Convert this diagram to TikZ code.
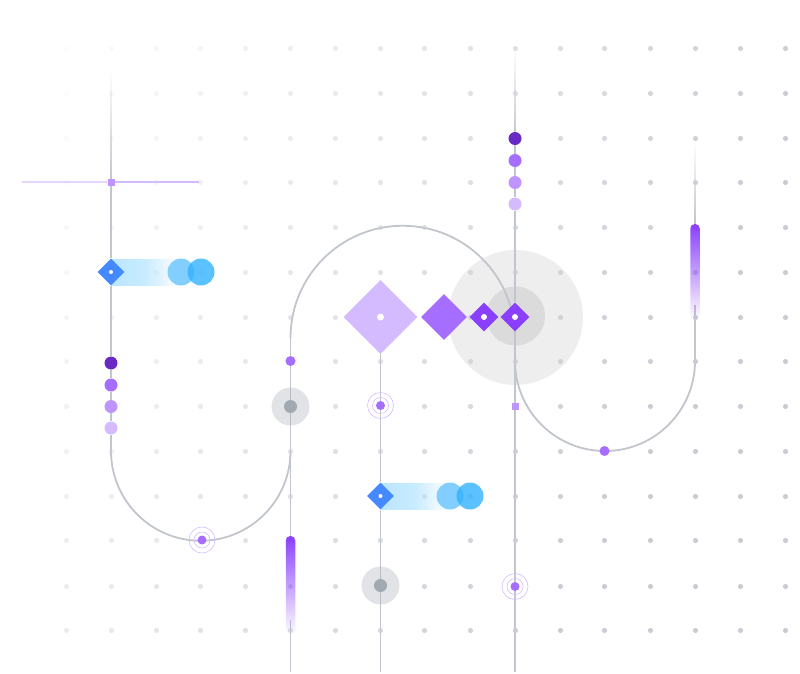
\documentclass[tikz,border=0pt]{standalone}
\usepackage{xcolor}
\usetikzlibrary{shapes.geometric,fadings,calc,backgrounds}

\definecolor{wiregray}{HTML}{C1C5CC}
\definecolor{dotgray}{HTML}{C9CDD3}
\definecolor{violetA}{HTML}{6929C4}
\definecolor{violetB}{HTML}{A56EFF}
\definecolor{violetC}{HTML}{BE95FF}
\definecolor{violetD}{HTML}{D4BBFF}
\definecolor{violetE}{HTML}{8A3FFC}
\definecolor{blueA}{HTML}{4589FF}
\definecolor{blueB}{HTML}{82CFFF}
\definecolor{blueC}{HTML}{33B1FF}
\definecolor{blueD}{HTML}{BAE6FF}
\definecolor{hubgray}{HTML}{A2A9B0}

\tikzfading[name=fadebar, top color=transparent!0, bottom color=transparent!100]
\tikzfading[name=faderight, left color=transparent!0, right color=transparent!100, middle color=transparent!20]

\tikzset{
    wire/.style={draw=wiregray, line width=0.036cm},
    wirefade/.style={top color=white, bottom color=wiregray},
    blob/.style={circle, inner sep=0pt, minimum size=#1},
    gem/.style={diamond, aspect=1, inner sep=0pt, minimum size=#1},
    pip/.style={blob=#1, fill=white},
    stackdot/.style={blob=0.26cm, fill=#1},
    smalldot/.style={blob=0.2cm, fill=violetB},
    halo/.style={blob=0.76cm, fill=hubgray, fill opacity=0.32},
    hub/.style={blob=0.26cm, fill=hubgray},
    ring/.style={blob=#1, draw=violetD, line width=0.012cm},
    marker/.style={rectangle, inner sep=0pt, minimum size=0.14cm, fill=violetC},
    purplebar/.style={rectangle, rounded corners=0.09cm, inner sep=0pt, minimum width=0.19cm, fill=violetE, path fading=fadebar},
    band/.style={rectangle, inner sep=0pt, minimum width=1.36cm, minimum height=0.54cm, fill=blueD, path fading=faderight},
}

\begin{document}
\begin{tikzpicture}[x=0.02cm, y=-0.02cm]
    \useasboundingbox (0,0) rectangle (800,673);

    \foreach \x in {66,111,156,200,245,290,335,380,424,470,515,560,604,650,695,740,785}
        \foreach \y in {48,93,138,182,227,272,317,361,406,451,496,540,586,630} {
            \pgfmathsetmacro{\dotalpha}{max(0,min(1,\x/800+\y/1800-0.05))}
            \fill[dotgray, opacity=\dotalpha] (\x+0.5,\y+0.5) circle[radius=2.6];
        }

    \node[marker] (squareA) at (111,182) {};
    \node[marker] (squareB) at (515,406.5) {};

    \node[band] (bandA) at (145,272) {};
    \node[blob=0.54cm, fill=blueB] (bubbleA) at (181,272) {};
    \node[blob=0.54cm, fill=blueC, fill opacity=0.8] (bubbleB) at (201,272) {};
    \node[gem=0.54cm, fill=blueA] (gemA) at (111,272) {};
    \node[pip=0.08cm] at (gemA) {};

    \node[band] (bandB) at (414.5,496) {};
    \node[blob=0.54cm, fill=blueB] (bubbleC) at (450,496) {};
    \node[blob=0.54cm, fill=blueC, fill opacity=0.8] (bubbleD) at (470,496) {};
    \node[gem=0.54cm, fill=blueA] (gemB) at (380.5,496) {};
    \node[pip=0.08cm] at (gemB) {};

    \node[stackdot=violetA] (stackA) at (111,363) {};
    \node[stackdot=violetB] (stackB) at (111,385) {};
    \node[stackdot=violetC] (stackC) at (111,406.5) {};
    \node[stackdot=violetD] (stackD) at (111,428) {};

    \node[stackdot=violetA] (stackE) at (515,138.5) {};
    \node[stackdot=violetB] (stackF) at (515,160.5) {};
    \node[stackdot=violetC] (stackG) at (515,182.5) {};
    \node[stackdot=violetD] (stackH) at (515,204) {};

    \node[gem=1.48cm, fill=violetD] (gemC) at (380.5,317) {};
    \node[pip=0.14cm] at (gemC) {};
    \node[gem=0.92cm, fill=violetB] (gemD) at (444,317) {};
    \node[gem=0.58cm, fill=violetE] (gemE) at (484,317) {};
    \node[pip=0.12cm] at (gemE) {};
    \node[gem=0.58cm, fill=violetE] (gemF) at (515,317) {};
    \node[pip=0.12cm] at (gemF) {};

    \node[smalldot] (dotA) at (290.5,361) {};
    \node[smalldot] (dotB) at (604.5,451) {};

    \node[halo] (haloA) at (290.5,406.5) {};
    \node[hub] (hubA) at (290.5,406.5) {};
    \node[halo] (haloB) at (380.5,585.5) {};
    \node[hub] (hubB) at (380.5,585.5) {};

    \foreach \name/\x/\y in {rippleA/202/540,rippleB/380.5/405.5,rippleC/515/586.5} {
        \node[blob=0.18cm, fill=violetB] (\name) at (\x,\y) {};
        \node[ring=0.32cm] at (\x,\y) {};
        \node[ring=0.52cm] at (\x,\y) {};
    }

    \node[purplebar, minimum height=1.98cm] (barA) at (290.5,585.5) {};
    \node[purplebar, minimum height=1.92cm] (barB) at (695,272) {};

    \coordinate (topA) at (111,68);
    \coordinate (topB) at (515,48);
    \coordinate (topC) at (695,140);
    \coordinate (leftA) at (22,182);
    \coordinate (rightA) at (199,182);
    \coordinate (arcA) at (111,451);
    \coordinate (arcB) at (290.5,451);
    \coordinate (arcC) at (290.5,338);
    \coordinate (arcD) at (515,361);
    \coordinate (arcE) at (695,361);
    \coordinate (endA) at (290.5,672);
    \coordinate (endB) at (380.5,672);
    \coordinate (endC) at (515,672);

    \begin{scope}[on background layer]
        \node[blob=2.7cm, fill=black, fill opacity=0.065] (discA) at (515.5,317.5) {};
        \node[blob=1.18cm, fill=black, fill opacity=0.08] (discB) at (515.5,316) {};

        \shade[wirefade] ($(topA)+(-0.9,0)$) rectangle ($(squareA.center)+(0.9,0)$);
        \shade[wirefade] ($(topB)+(-0.9,0)$) rectangle ($(stackE.center)+(0.9,0)$);
        \shade[wirefade] ($(topC)+(-0.9,0)$) rectangle ($(barB.north)+(0.9,0)$);

        \draw[wire] (squareA) -- (gemA);
        \draw[wire] (gemA) -- (stackA);
        \draw[wire] (stackA) -- (stackB);
        \draw[wire] (stackB) -- (stackC);
        \draw[wire] (stackC) -- (stackD);
        \draw[wire] (stackD) -- (arcA);
        \draw[wire] (arcA) arc[start angle=180, end angle=0, radius=89.75];
        \draw[wire] (arcC) -- (dotA);
        \draw[wire] (dotA) -- (haloA.center);
        \draw[wire] (haloA.center) -- (barA);
        \draw[wire] ($(barA.south)+(0,-15)$) -- (endA);
        \draw[wire] (arcC) arc[start angle=180, end angle=360, radius=112.25];

        \draw[wire] (gemC) -- (rippleB);
        \draw[wire] (rippleB) -- (gemB);
        \draw[wire] (gemB) -- (haloB.center);
        \draw[wire] (haloB.center) -- (endB);

        \draw[wire] (stackE) -- (stackF);
        \draw[wire] (stackF) -- (stackG);
        \draw[wire] (stackG) -- (stackH);
        \draw[wire] (stackH) -- (gemF);
        \draw[wire] (gemF) -- (squareB);
        \draw[wire] (squareB) -- (rippleC);
        \draw[wire] (rippleC) -- (endC);
        \draw[wire] (gemF) -- (arcD);
        \draw[wire] (arcD) arc[start angle=180, end angle=0, radius=90];
        \draw[wire] ($(barB.south)+(0,-15)$) -- (arcE);

        \draw[violetD!60, line width=0.03cm] (leftA) -- (squareA);
        \draw[violetD, line width=0.03cm] (squareA) -- (rightA);
    \end{scope}
\end{tikzpicture}
\end{document}
